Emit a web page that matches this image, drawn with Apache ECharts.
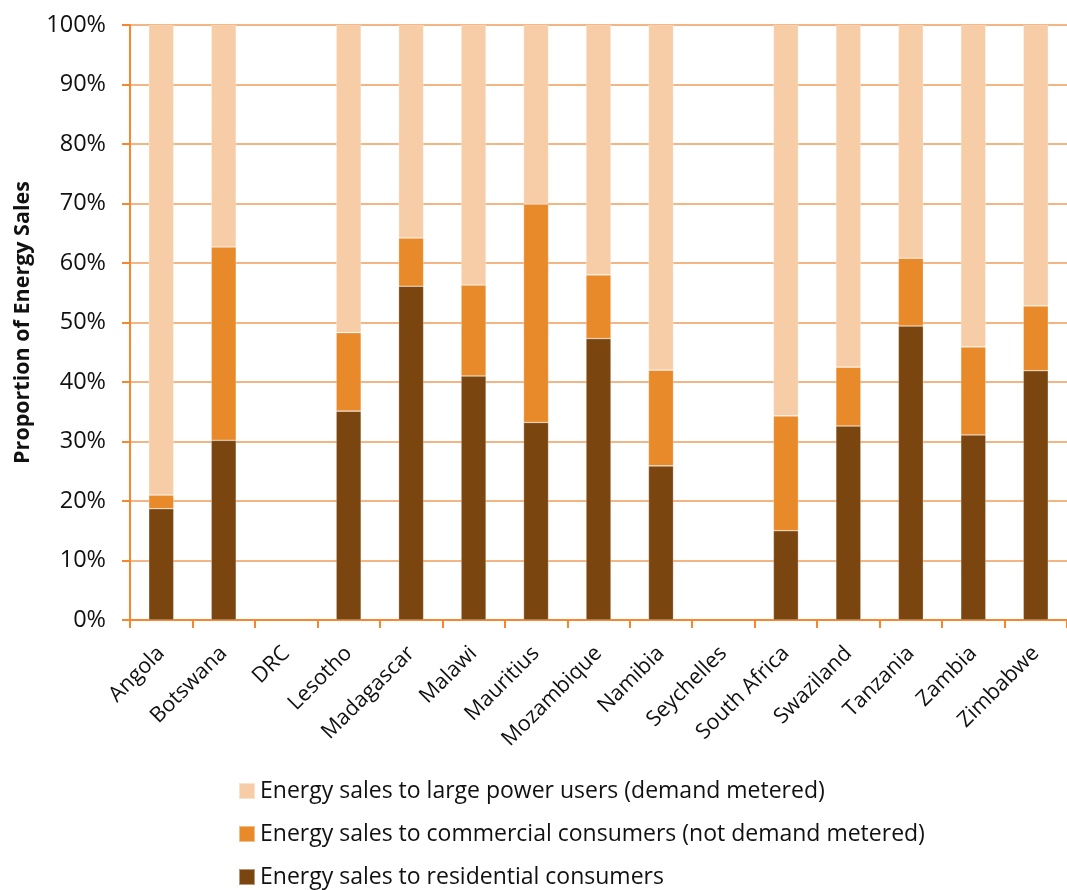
<!DOCTYPE html>
<html>
<head>
<meta charset="utf-8">
<script src="https://cdn.jsdelivr.net/npm/echarts@6/dist/echarts.min.js"></script>
<style>
  html, body { margin: 0; padding: 0; background: #fff; }
  #chart { width: 1067px; height: 890px; }
</style>
</head>
<body>
<div id="chart"></div>
<script>
const countries = ['Angola', 'Botswana', 'DRC', 'Lesotho', 'Madagascar', 'Malawi', 'Mauritius',
  'Mozambique', 'Namibia', 'Seychelles', 'South Africa', 'Swaziland', 'Tanzania', 'Zambia', 'Zimbabwe']
const residential = [18.7, 30.2, null, 35.1, 56.1, 41.0, 33.2, 47.3, 25.9, null, 15.0, 32.6, 49.4, 31.1, 41.9]
const commercial = [2.3, 32.5, null, 13.2, 8.1, 15.3, 36.7, 10.7, 16.1, null, 19.3, 9.9, 11.4, 14.8, 10.9]
const large = [79.0, 37.3, null, 51.7, 35.8, 43.7, 30.1, 42.0, 58.0, null, 65.7, 57.5, 39.2, 54.1, 47.2]
const yTicks = [0, 10, 20, 30, 40, 50, 60, 70, 80, 90, 100]

const names = {
  large: 'Energy sales to large power users (demand metered)',
  commercial: 'Energy sales to commercial consumers (not demand metered)',
  residential: 'Energy sales to residential consumers'
}
const font = 'Open Sans, Noto Sans, sans-serif'

const chart = echarts.init(document.getElementById('chart'))

function barSeries (name, data, color) {
  return {
    name: name,
    type: 'bar',
    stack: 'total',
    barWidth: 25,
    data: data,
    itemStyle: { color: color, borderColor: 'rgba(255,255,255,0.45)', borderWidth: 0.6 },
    emphasis: { disabled: true }
  }
}

chart.setOption({
  animation: false,
  textStyle: { fontFamily: font },
  grid: { left: 130, right: -10, top: 25, bottom: 270, containLabel: false },
  legend: {
    orient: 'vertical',
    left: 233,
    top: 773,
    height: 200,
    itemGap: 17,
    itemWidth: 16,
    itemHeight: 16,
    icon: 'rect',
    textStyle: { fontSize: 23, lineHeight: 26, color: '#111', fontFamily: font },
    data: [names.large, names.commercial, names.residential]
  },
  xAxis: {
    type: 'category',
    data: countries,
    axisLine: { lineStyle: { color: '#F8862E', width: 2 } },
    axisTick: { show: true, length: 8, lineStyle: { color: '#F8862E', width: 2 } },
    axisLabel: {
      rotate: 45,
      interval: 0,
      margin: 30,
      fontSize: 21.5,
      color: '#111',
      fontFamily: font
    }
  },
  yAxis: {
    type: 'value',
    min: 0,
    max: 100,
    interval: 10,
    name: 'Proportion of Energy Sales',
    nameLocation: 'middle',
    nameGap: 96,
    nameTextStyle: { fontSize: 21.5, fontWeight: 'bold', color: '#111', fontFamily: font },
    axisLine: { show: true, lineStyle: { color: '#F8862E', width: 2 } },
    axisTick: { show: true, length: 8, lineStyle: { color: '#F8862E', width: 2 } },
    axisLabel: {
      formatter: function (v) { return yTicks.indexOf(v) >= 0 ? v + '%' : '' },
      fontSize: 23.5,
      margin: 24,
      color: '#111',
      fontFamily: font
    },
    splitLine: { lineStyle: { color: '#F4B584', width: 2 } }
  },
  series: [
    barSeries(names.residential, residential, '#7B450F'),
    barSeries(names.commercial, commercial, '#E8892A'),
    barSeries(names.large, large, '#F6CDA6')
  ]
})
</script>
</body>
</html>
